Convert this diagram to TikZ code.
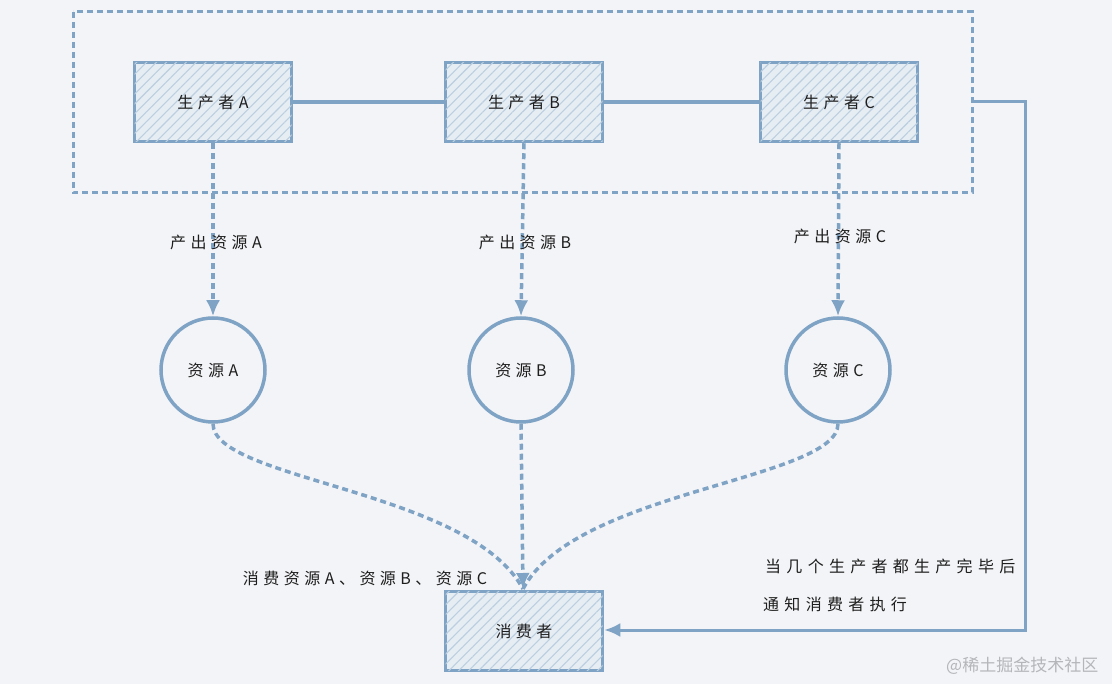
\documentclass[tikz,border=0pt]{standalone}
\usepackage{fontspec}
\setmainfont{Noto Sans CJK SC}[LetterSpace=28]
\newfontfamily\wide{Noto Sans CJK SC}[LetterSpace=33]
\usetikzlibrary{patterns.meta,arrows.meta}
\definecolor{bg}{HTML}{F3F4F7}
\definecolor{ln}{HTML}{7EA3C4}
\definecolor{hf}{HTML}{E6EDF3}
\definecolor{hl}{HTML}{BCCFE0}
\definecolor{tx}{HTML}{1E1E1E}
\definecolor{wm}{HTML}{B4B6BA}
\tikzset{
  box/.style={draw=ln,line width=3.5pt,minimum width=157pt,minimum height=79pt,
    fill=hf,postaction={pattern={Lines[angle=45,distance=7pt,line width=1.1pt]},pattern color=hl},font=\fontsize{16}{18}\selectfont,text=tx},
  res/.style={circle,draw=ln,line width=3.5pt,minimum size=104pt,font=\fontsize{16}{18}\selectfont,text=tx},
  solidln/.style={draw=ln,line width=3.5pt},
  dashln/.style={draw=ln,line width=3.5pt,dash pattern=on 6pt off 4pt},
  arr/.style={-{Latex[length=16pt,width=14pt,sep=0pt]}},
  lbl/.style={font=\fontsize{16}{18}\selectfont,text=tx,inner sep=0pt},
}
\begin{document}
\begin{tikzpicture}[x=1pt,y=-1pt]
\useasboundingbox (0,0) rectangle (1112,684);
\fill[bg] (0,0) rectangle (1112,684);
% outer dashed group
\draw[dashln,line width=3pt] (73,12) rectangle (972,193);
\node[box] (pA) at (213,102) {生产者A};
\node[box] (pB) at (524,102) {生产者B};
\node[box] (pC) at (839,102) {生产者C};
\draw[solidln] (pA.east) -- (pB.west);
\draw[solidln] (pB.east) -- (pC.west);
\node[res] (rA) at (213,370) {资源A};
\node[res] (rB) at (521,370) {资源B};
\node[res] (rC) at (838,370) {资源C};
\node[box] (cons) at (524,631) {消费者};
\draw[dashln,arr] (pA.south) -- (rA.north);
\draw[dashln,arr] (pB.south) -- (rB.north);
\draw[dashln,arr] (pC.south) -- (rC.north);
\node[lbl] (lA) at (216,242) {产出资源A};
\node[lbl] (lB) at (525,242) {产出资源B};
\node[lbl] (lC) at (840,236) {产出资源C};
\coordinate (ct) at (523,589);
\draw[dashln] (rA.south) .. controls (213,480) and (470,490) .. (ct);
\draw[dashln] (rC.south) .. controls (838,480) and (575,490) .. (ct);
\draw[dashln,arr] (rB.south) -- (ct);
\node[lbl] (lc) at (365,578) {消费资源A、资源B、资源C};
\coordinate (g1) at (972,102);
\coordinate (g2) at (1025,102);
\coordinate (g3) at (1025,630);
\draw[draw=ln,line width=3pt,arr] (g1) -- (g2) -- (g3) -- (cons.east |- g3);
\node[lbl,anchor=west,font=\wide\fontsize{16}{18}\selectfont] (n1) at (765,566) {当几个生产者都生产完毕后};
\node[lbl,anchor=west,font=\wide\fontsize{16}{18}\selectfont] (n2) at (763,604) {通知消费者执行};
\node[lbl,anchor=west,text=wm,font=\fontsize{17}{18}\selectfont\addfontfeature{LetterSpace=0}] (wm) at (946,666) {@稀土掘金技术社区};
\end{tikzpicture}
\end{document}
